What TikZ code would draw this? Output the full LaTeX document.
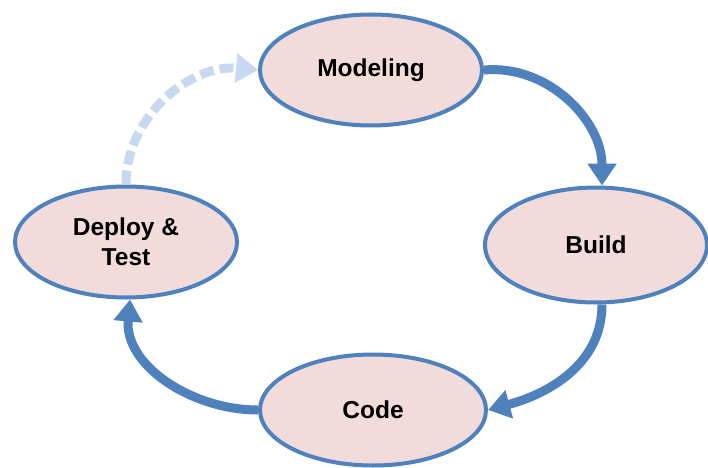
\documentclass[tikz,border=0pt]{standalone}
\usepackage{fontspec}
\setmainfont{Liberation Sans}
\usetikzlibrary{shapes,arrows.meta}
\definecolor{cycblue}{RGB}{79,129,189}
\definecolor{cycpale}{RGB}{198,217,240}
\definecolor{cycpink}{RGB}{242,220,219}

\begin{document}
\begin{tikzpicture}[x=1pt, y=1pt,
  stage/.style={ellipse, draw=cycblue, line width=4pt, fill=cycpink,
    minimum width=222pt, minimum height=111pt, inner sep=0pt, align=center,
    font=\fontsize{24.5}{30}\selectfont\bfseries},
  flow/.style={line width=9pt, draw=cycblue, -{Triangle[length=22pt,width=28pt]}},
  back/.style={flow, draw=cycpale, dash pattern=on 14pt off 6pt}]

  \useasboundingbox (0,0) rectangle (708,467);

  \node[stage] (model) at (371,397) {Modeling};
  \node[stage, minimum height=115pt] (build) at (596,222) {Build};
  \node[stage, minimum width=226pt] (code) at (373,57) {Code};
  \node[stage] (deploy) at (126,225) {Deploy \&\\Test};

  \draw[flow] (model.east) to[out=5, in=90] ([xshift=6pt]build.north); %% model->build
  \draw[flow] ([xshift=6pt]build.south) to[out=-90, in=15] (code.east); %% build->code
  \draw[flow] (code.west) to[out=180, in=-95] ([xshift=4pt]deploy.south); %% code->deploy
  \draw[back] (deploy.north) to[out=90, in=175] (model.west); %% deploy->model
\end{tikzpicture}
\end{document}
